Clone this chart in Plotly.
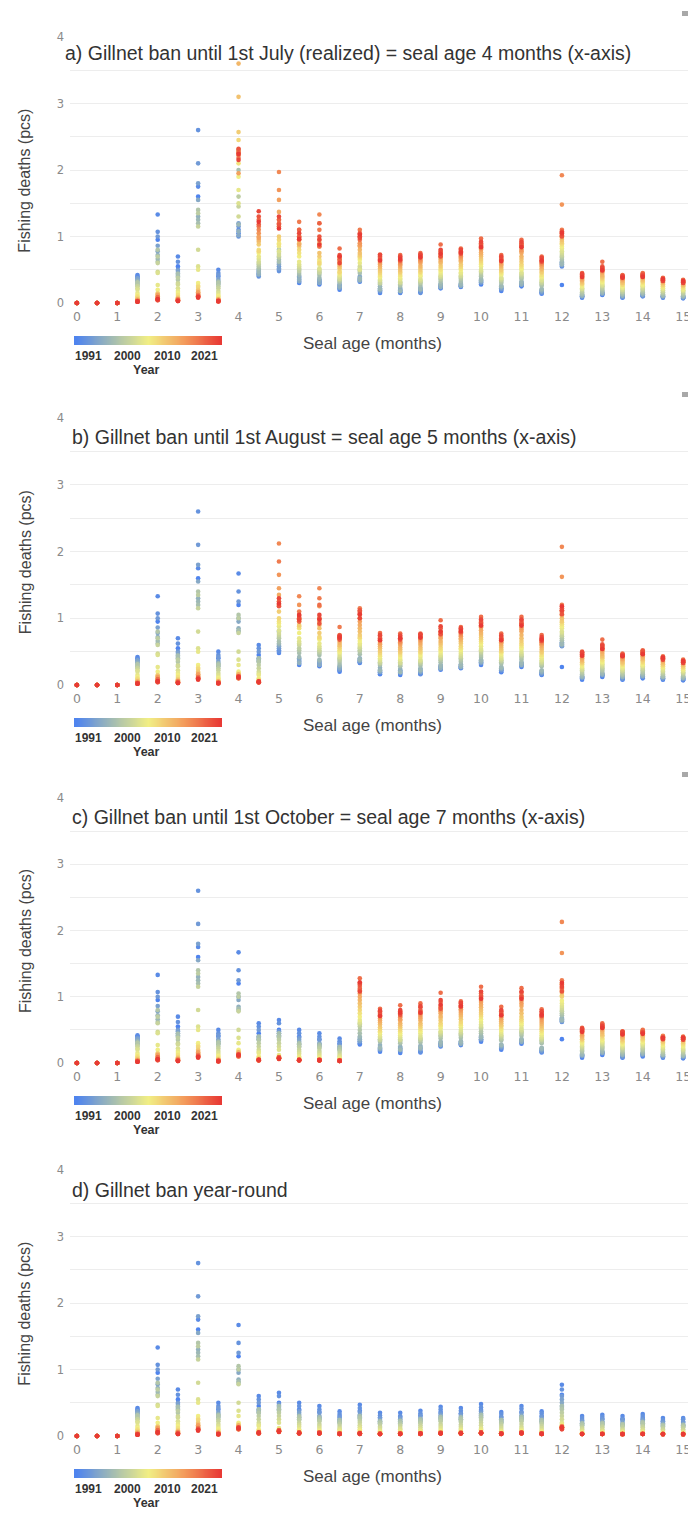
import plotly.graph_objects as go

W, H = 688, 1515

YEARS = list(range(1991, 2022))
AGES = [0, 0.5, 1, 1.5, 2, 2.5, 3, 3.5, 4, 4.5, 5, 5.5, 6, 6.5, 7, 7.5,
        8, 8.5, 9, 9.5, 10, 10.5, 11, 11.5, 12, 12.5, 13, 13.5, 14, 14.5, 15]
X_TICKS = [0, 1, 2, 3, 4, 5, 6, 7, 8, 9, 10, 11, 12, 13, 14, 15]
Y_TICKS = [0, 0.5, 1, 1.5, 2, 2.5, 3, 3.5, 4]
Y_TICK_TEXT = ["0", "", "1", "", "2", "", "3", "", "4"]
CBAR_LABELS = ["1991", "2000", "2010", "2021"]

TITLES = [
    "a) Gillnet ban until 1st July (realized) = seal age 4 months (x-axis)",
    "b) Gillnet ban until 1st August = seal age 5 months (x-axis)",
    "c) Gillnet ban until 1st October = seal age 7 months (x-axis)",
    "d) Gillnet ban year-round",
]
# number of leading age columns (0, 0.5, ...) that fall inside the ban period
BAN_COLUMNS = [8, 10, 14, 31]

# Fishing deaths in hundredths of pcs; each column lists years 1991..2021.
Z = [0] * 31
# columns with gillnet ban in force (ages 0..15), as in panel d
BAN = [
    Z, Z, Z,
    [40,42,38,36,37,34,33,30, 28,31,26,25,22,20, 15,12,10,8, 6,5,5,4,4,3, 3,3,3,2,2,2,2],
    [95,133,107,100,86,78,72,66, 62,80,70,60,47,45, 27,20,15,12, 10,14,8,7,12,6, 5,6,9,5,4,5,6],
    [55,70,62,50,48,45,42,40, 44,35,38,30,28,22, 18,15,12,9, 8,7,6,5,6,4, 4,5,3,3,4,3,3],
    [160,175,260,210,180,155,130,125, 120,140,135,115,80,55, 50,30,26,24, 20,18,15,14,16,12, 10,12,11,9,10,8,9],
    [40,50,45,42,36,33,30,28, 32,30,25,22,18,15, 12,10,8,6, 5,5,4,4,5,3, 3,4,3,3,2,3,3],
    [120,167,140,125,100,95,85,80, 82,105,100,78,50,38, 30,20,18,15, 14,12,11,16,10,12, 13,11,10,12,13,11,12],
    [45,60,55,50,40,38,36,35, 40,35,30,25,20,17, 15,10,8,7, 6,5,5,5,4,4, 5,4,5,4,5,4,5],
    [50,65,60,48,45,42,40,38, 45,40,35,30,25,20, 12,10,8,8, 7,8,9,7,8,6, 7,8,7,9,8,6,7],
    [40,50,45,38,35,32,28,25, 30,28,24,20,17,14, 10,8,6,6, 5,5,5,4,5,4, 5,4,5,4,4,5,4],
    [36,45,40,35,30,28,26,24, 28,25,22,18,15,12, 9,7,6,5, 5,5,4,5,4,5, 4,5,4,4,5,4,4],
    [30,37,33,28,25,23,21,20, 24,21,18,15,12,10, 8,6,5,5, 4,4,4,4,3,4, 3,4,3,3,4,3,3],
    [38,47,42,36,32,30,28,26, 30,27,23,20,16,13, 10,8,6,5, 5,4,4,5,4,4, 3,4,4,3,4,3,4],
    [28,35,31,27,24,22,20,19, 22,20,17,14,12,9, 7,6,5,4, 4,4,3,4,3,3, 3,3,4,3,3,3,3],
    [29,35,30,27,25,22,21,19, 23,20,17,15,12,10, 7,6,5,5, 4,4,4,3,4,3, 3,4,3,3,4,3,3],
    [31,38,34,30,27,25,23,21, 25,22,19,16,13,10, 8,6,5,5, 4,4,4,4,3,4, 3,4,3,4,3,3,4],
    [36,44,40,34,31,28,26,24, 29,26,22,18,15,12, 9,7,6,5, 5,4,4,5,4,4, 4,4,5,4,4,4,4],
    [34,42,38,33,30,27,25,23, 28,25,21,17,14,11, 9,7,6,5, 4,5,4,4,4,4, 4,4,4,5,4,4,4],
    [39,48,43,37,34,31,29,27, 32,28,24,20,16,12, 10,8,6,5, 5,5,4,5,4,5, 5,4,5,4,5,5,4],
    [29,36,33,28,25,23,21,20, 24,21,18,15,12,9, 7,6,5,4, 4,4,4,3,4,4, 3,4,4,3,3,4,3],
    [36,45,41,35,31,28,26,24, 29,26,22,18,14,11, 9,7,6,5, 5,5,4,4,5,4, 5,4,4,5,4,5,4],
    [30,37,34,29,26,24,22,20, 24,21,18,15,12,9, 7,6,5,4, 4,4,4,3,4,3, 3,4,3,3,4,3,3],
    [62,77,70,60,55,50,45,42, 45,40,35,30,25,20, 18,16,14,13, 12,14,11,13,12,15, 12,13,11,14,12,10,13],
    [24,30,27,23,21,19,17,16, 19,17,14,12,10,8, 6,5,4,4, 3,3,4,3,3,3, 3,3,3,3,3,3,3],
    [26,32,29,25,22,20,18,17, 20,18,15,13,10,8, 6,5,4,4, 4,3,3,4,3,3, 3,3,3,3,3,3,3],
    [25,30,26,24,21,18,17,15, 18,17,14,11,9,7, 6,5,4,3, 3,4,3,3,3,3, 3,3,2,3,3,3,3],
    [27,33,30,25,23,21,19,17, 21,19,15,13,10,8, 6,5,4,4, 4,3,3,3,4,3, 3,3,3,3,3,3,3],
    [22,27,24,21,19,17,15,14, 17,15,12,10,8,6, 5,4,4,3, 3,3,3,3,3,3, 3,3,2,3,3,3,3],
    [21,27,25,21,18,16,15,14, 17,15,13,10,8,6, 5,4,4,3, 3,3,3,3,3,2, 3,3,3,2,3,3,3],
]

# columns after the ban ends, panel a (ages 4..15)
A_OPEN = [
    [105,110,100,115,120,102,108,118, 200,230,160,145,130,150, 170,190,210,245, 257,310,360,228,195,225, 222,230,218,226,232,215,224],
    [42,45,40,48,44,50,43,47, 52,55,58,60,62,66, 70,75,80,78, 88,92,95,100,98,105, 110,115,125,118,130,138,122],
    [50,55,48,60,52,58,65,80, 62,70,68,75,72,78, 85,90,88,95, 100,115,125,137,155,170, 197,115,120,125,118,130,112],
    [30,35,32,38,40,33,36,42, 45,50,48,52,55,58, 62,70,75,80, 85,90,95,88,100,110, 95,122,100,110,98,105,96],
    [28,32,30,35,33,30,35,38, 42,45,48,46,50,52, 58,62,65,60, 70,75,85,90,95,120, 133,110,85,120,100,95,88],
    [20,24,22,26,28,23,25,30, 32,35,34,38,36,40, 42,45,48,46, 52,55,60,58,62,65, 68,70,82,65,72,60,70],
    [32,35,33,38,36,40,34,37, 45,48,50,52,55,50, 60,65,68,70, 72,75,80,85,87,90, 100,110,95,105,100,98,103],
    [15,18,17,20,22,19,25,21, 28,30,32,30,34,35, 38,40,42,45, 48,52,55,58,60,62, 65,68,73,70,66,72,64],
    [15,17,16,19,21,20,23,18, 26,28,30,32,31,35, 37,40,42,45, 47,50,53,56,58,60, 62,65,72,68,64,70,66],
    [16,18,15,20,22,19,24,21, 27,30,31,33,34,36, 40,42,45,47, 50,53,56,60,62,64, 66,70,75,68,72,73,69],
    [22,25,23,27,26,29,24,28, 32,35,37,39,40,42, 45,48,50,53, 56,60,62,65,68,70, 72,75,88,78,70,80,74],
    [24,26,25,28,27,30,26,29, 33,36,38,40,41,44, 46,50,52,55, 58,62,64,66,68,70, 72,75,82,78,74,80,76],
    [28,30,32,34,31,36,33,35, 40,42,45,47,48,50, 55,58,60,63, 66,70,73,76,80,82, 85,88,97,90,86,92,84],
    [18,20,22,21,24,23,26,25, 30,32,34,35,37,38, 42,44,46,48, 50,53,56,58,60,62, 64,66,72,68,65,70,63],
    [25,28,27,30,29,32,28,31, 36,38,40,42,44,46, 50,52,55,58, 62,66,70,75,78,80, 85,88,95,90,86,92,84],
    [14,16,15,18,17,20,19,21, 26,28,30,31,33,35, 38,40,42,45, 47,50,52,55,57,59, 60,63,70,66,62,68,64],
    [27,55,58,60,62,57,61,59, 65,68,70,72,75,78, 82,85,88,90, 92,95,98,100,105,148, 192,110,102,108,100,104,106],
    [8,9,10,11,10,12,11,13, 14,16,18,20,21,22, 24,26,28,29, 30,32,34,35,37,38, 40,42,45,43,41,44,39],
    [12,13,14,15,14,16,15,17, 19,21,23,25,26,28, 30,32,34,36, 38,40,42,45,47,48, 50,52,62,55,50,53,49],
    [8,9,10,9,11,12,11,13, 14,16,17,19,20,22, 23,25,27,28, 30,31,33,35,36,37, 38,40,42,41,39,40,38],
    [10,11,12,11,13,14,13,15, 16,18,20,21,23,25, 26,28,30,32, 33,35,37,38,40,42, 43,45,40,44,42,41,39],
    [8,9,10,9,10,11,12,11, 13,15,16,18,19,21, 22,24,25,27, 28,30,31,32,34,35, 36,38,35,37,34,33,36],
    [7,8,9,8,9,10,11,10, 12,14,15,17,18,19, 20,22,23,25, 26,27,28,30,31,32, 33,35,32,34,31,30,33],
]

# columns after the ban ends, panel b (ages 5..15)
B_OPEN = [
    [48,52,50,55,58,60,80,62, 65,70,72,75,78,82, 88,92,95,100, 110,120,125,135,145,165, 212,185,120,125,118,130,122],
    [30,32,35,38,40,36,33,42, 48,52,55,60,62,65, 70,78,85,88, 90,95,98,100,105,120, 133,110,100,95,102,98,105],
    [28,30,33,35,32,30,36,38, 45,48,50,52,55,58, 62,68,70,72, 78,85,90,95,100,118, 145,130,120,100,92,105,98],
    [20,22,24,23,26,25,28,30, 33,36,38,40,42,45, 48,50,52,55, 58,60,63,66,70,72, 75,87,70,73,68,74,71],
    [33,35,34,38,36,40,37,39, 46,50,52,55,57,60, 62,66,70,72, 75,80,85,90,95,100, 105,115,110,108,112,100,106],
    [16,18,19,21,23,20,26,22, 30,32,34,33,36,38, 40,43,45,48, 51,55,58,61,63,66, 68,72,78,74,70,75,67],
    [15,17,18,20,22,21,24,19, 28,30,32,34,33,37, 39,42,45,48, 50,53,56,60,62,64, 66,70,77,72,68,74,70],
    [16,18,17,21,23,20,25,22, 29,32,33,35,36,38, 42,45,48,50, 53,56,60,63,66,68, 70,73,77,72,75,76,71],
    [23,26,24,28,27,30,25,29, 34,37,39,41,43,45, 48,51,53,56, 60,63,66,70,72,75, 78,80,97,85,76,88,80],
    [25,27,26,29,28,31,27,30, 35,38,40,42,44,47, 50,53,55,58, 62,65,68,70,73,75, 77,80,87,83,79,85,81],
    [30,32,34,36,33,38,35,37, 42,45,48,50,52,54, 58,62,65,68, 71,75,78,82,86,88, 90,94,102,96,92,98,89],
    [19,21,23,22,25,24,27,26, 32,34,36,37,39,41, 44,47,49,51, 53,56,59,62,64,66, 68,70,77,72,69,74,67],
    [27,30,29,32,31,34,30,33, 38,41,43,45,47,50, 54,56,59,62, 66,70,75,80,83,86, 90,93,102,96,92,98,89],
    [15,17,16,19,18,21,20,22, 28,30,32,33,35,37, 40,43,45,48, 50,53,56,59,61,63, 64,67,75,70,66,72,68],
    [27,58,60,62,64,59,63,61, 67,70,73,75,78,80, 85,88,91,94, 96,100,104,108,112,162, 207,120,110,115,106,112,118],
    [8,10,11,12,11,13,12,14, 16,18,20,22,23,25, 27,29,31,33, 34,36,38,40,42,43, 45,47,50,48,46,49,44],
    [12,14,15,16,15,17,16,18, 21,23,25,27,29,31, 33,35,37,40, 42,44,47,50,52,54, 56,58,68,61,55,59,54],
    [8,9,10,10,12,13,12,14, 15,17,19,21,22,24, 26,28,30,32, 33,35,37,39,40,42, 43,45,47,46,44,45,43],
    [10,12,13,12,14,15,14,16, 18,20,22,24,26,28, 29,31,33,35, 37,39,41,43,45,47, 48,50,52,49,51,47,46],
    [8,9,10,10,11,12,13,12, 14,16,18,20,21,23, 25,27,28,30, 31,33,35,36,38,40, 41,43,40,42,39,38,41],
    [7,8,9,9,10,11,12,11, 13,15,17,18,19,21, 22,24,25,27, 28,30,31,33,34,35, 36,38,35,37,34,33,36],
]

# columns after the ban ends, panel c (ages 7..15)
C_OPEN = [
    [28,30,32,35,33,38,36,40, 45,50,55,58,60,62, 65,70,75,80, 85,90,95,100,105,110, 115,120,128,112,118,108,122],
    [17,19,20,22,24,21,27,23, 32,34,36,35,38,40, 43,46,48,51, 54,58,61,64,67,70, 72,76,82,78,74,79,71],
    [15,17,19,21,23,22,25,20, 30,32,34,36,35,39, 42,45,48,51, 54,57,60,64,66,69, 71,75,87,78,73,80,76],
    [16,18,17,22,24,21,26,23, 31,34,35,37,38,41, 45,48,51,54, 57,60,64,67,70,73, 75,78,90,80,84,86,76],
    [25,28,26,30,29,32,27,31, 37,40,42,44,46,48, 52,55,57,60, 64,68,71,75,78,80, 84,86,106,92,82,95,88],
    [27,29,28,31,30,33,29,32, 38,41,43,45,47,50, 54,57,59,62, 66,70,73,76,79,81, 84,87,93,90,85,91,86],
    [32,34,36,39,36,41,38,40, 45,48,52,54,56,58, 62,66,70,73, 76,80,84,88,92,95, 98,102,115,105,100,108,97],
    [20,22,24,23,26,25,28,27, 34,36,38,40,42,44, 47,50,52,55, 57,60,63,66,69,71, 73,76,85,78,74,80,72],
    [29,32,31,34,33,36,32,35, 41,44,46,48,50,53, 57,60,63,66, 70,75,80,86,90,94, 98,102,113,106,100,108,97],
    [16,18,17,20,19,22,21,23, 30,32,34,35,37,39, 42,45,48,51, 53,56,59,62,65,68, 70,73,81,76,71,78,73],
    [36,62,64,66,68,63,67,65, 72,75,78,80,83,86, 90,94,120,100, 102,106,110,114,118,166, 213,125,112,118,108,115,121],
    [8,10,11,12,11,13,12,14, 17,19,21,23,25,27, 29,31,33,35, 36,38,40,42,44,46, 48,50,53,51,49,52,47],
    [12,14,15,16,15,17,16,18, 21,23,25,27,29,31, 33,35,37,40, 42,44,47,50,52,54, 55,57,60,58,54,56,53],
    [8,9,10,10,12,13,12,14, 16,18,20,22,23,25, 27,29,31,33, 35,37,39,41,42,44, 45,47,48,46,44,47,43],
    [10,12,13,12,14,15,14,16, 18,20,22,24,26,28, 30,32,34,36, 38,40,42,44,46,47, 48,50,49,47,45,46,44],
    [8,9,10,10,11,12,13,12, 14,16,18,20,21,23, 25,27,29,31, 32,34,35,37,38,40, 41,40,38,39,37,36,38],
    [7,8,9,9,10,11,12,11, 13,15,17,19,20,22, 24,26,28,30, 32,33,35,36,37,39, 40,38,36,39,37,35,38],
]

OPEN = [A_OPEN, B_OPEN, C_OPEN, []]

COLORSCALE = [[0.0, "#4f84ee"], [0.25, "#a3bcb2"], [0.5, "#f1ee84"],
              [0.75, "#f39c5c"], [1.0, "#e83a35"]]

# pixel layout
ZERO_PX = [303, 685, 1063, 1436]
FOUR_PX = [37, 418, 798, 1170]
TITLE_X = [63, 70, 70, 70]
TITLE_DY = [16, 19, 19, 20]
PLOT_LEFT = 70


def px(x):
    return x / W


def py(y):
    return 1 - y / H


TXT = "Liberation Sans"
HIDDEN = dict(showgrid=False, zeroline=False, showline=False, showticklabels=False,
              ticks="", automargin=False, fixedrange=True)

fig = go.Figure()
annotations = []
shapes = []
layout = dict(
    width=W, height=H, margin=dict(l=0, r=0, t=0, b=0, autoexpand=False),
    paper_bgcolor="white", plot_bgcolor="white", showlegend=False,
    coloraxis=dict(colorscale=COLORSCALE, cmin=1991, cmax=2021, showscale=False),
)

for i in range(4):
    n = i + 1
    sfx = "" if n == 1 else str(n)
    cols = BAN[:BAN_COLUMNS[i]] + OPEN[i]
    xs, ys, cs = [], [], []
    for yi, yr in enumerate(YEARS):
        for ci, col in enumerate(cols):
            xs.append(AGES[ci])
            ys.append(col[yi] / 100.0)
            cs.append(yr)
    fig.add_trace(go.Scatter(
        x=xs, y=ys, mode="markers", xaxis="x" + sfx, yaxis="y" + sfx,
        cliponaxis=False, hoverinfo="skip",
        marker=dict(size=4.6, color=cs, coloraxis="coloraxis", line=dict(width=0)),
    ))
    z, f = ZERO_PX[i], FOUR_PX[i]
    layout["xaxis" + sfx] = dict(
        domain=[px(PLOT_LEFT), 1.0], range=[-0.17, 15.12], anchor="y" + sfx,
        tickvals=X_TICKS, ticktext=[str(t) for t in X_TICKS], showgrid=False,
        zeroline=False, showline=False, ticks="", ticklabelstandoff=4,
        ticklabeloverflow="allow", automargin=False,
        tickfont=dict(family="DejaVu Sans", size=12.5, color="#8a8a8a"),
        fixedrange=True,
    )
    layout["yaxis" + sfx] = dict(
        domain=[py(z), py(f)], range=[0, 4], anchor="x" + sfx,
        tickvals=Y_TICKS, ticktext=Y_TICK_TEXT, showgrid=True, gridcolor="#ededed",
        gridwidth=1, zeroline=False, showline=False, ticks="", ticklabelstandoff=5,
        automargin=False,
        tickfont=dict(family="DejaVu Sans", size=11.5, color="#8a8a8a"),
        fixedrange=True,
    )
    # colour legend strip, drawn from the year list
    cx, cy = "x" + str(n + 4), "y" + str(n + 4)
    fig.add_trace(go.Heatmap(
        z=[YEARS], x=YEARS, y=[0], xaxis=cx, yaxis=cy, coloraxis="coloraxis",
        zsmooth="best", hoverinfo="skip",
    ))
    layout["xaxis" + str(n + 4)] = dict(domain=[px(74), px(222)], range=[1990.5, 2021.5],
                                        anchor=cy, **HIDDEN)
    layout["yaxis" + str(n + 4)] = dict(domain=[py(z + 42), py(z + 33)], range=[-0.5, 0.5],
                                        anchor=cx, **HIDDEN)
    annotations.append(dict(
        text=TITLES[i], x=px(TITLE_X[i]), y=py(f + TITLE_DY[i]), xref="paper", yref="paper",
        xanchor="left", yanchor="middle", showarrow=False,
        font=dict(family=TXT, size=19.5, color="#333333"),
    ))
    annotations.append(dict(
        text="Fishing deaths (pcs)", x=px(25), y=py(z - 0.46 * (z - f)), xref="paper",
        yref="paper", xanchor="center", yanchor="middle", textangle=-90, showarrow=False,
        font=dict(family=TXT, size=16, color="#444444"),
    ))
    annotations.append(dict(
        text="Seal age (months)", x=px(372), y=py(z + 40), xref="paper", yref="paper",
        xanchor="center", yanchor="middle", showarrow=False,
        font=dict(family=TXT, size=17, color="#444444"),
    ))
    for lab, lx in zip(CBAR_LABELS, [88, 127, 167, 205]):
        annotations.append(dict(
            text="<b>%s</b>" % lab, x=px(lx), y=py(z + 53), xref="paper", yref="paper",
            xanchor="center", yanchor="middle", showarrow=False,
            font=dict(family=TXT, size=12, color="#333333"),
        ))
    annotations.append(dict(
        text="<b>Year</b>", x=px(146), y=py(z + 67), xref="paper", yref="paper",
        xanchor="center", yanchor="middle", showarrow=False,
        font=dict(family=TXT, size=12.5, color="#333333"),
    ))
    if i < 3:
        shapes.append(dict(
            type="rect", xref="paper", yref="paper", x0=px(682), x1=px(688),
            y0=py(f - 21), y1=py(f - 26), fillcolor="#a8a8a8", line=dict(width=0),
        ))

# gap in the top gridline of panel d
shapes.append(dict(
    type="rect", xref="paper", yref="paper", x0=px(297), x1=px(454),
    y0=py(FOUR_PX[3] + 2), y1=py(FOUR_PX[3] - 2), fillcolor="white",
    line=dict(width=0), layer="above",
))

layout["annotations"] = annotations
layout["shapes"] = shapes
fig.update_layout(**layout)
fig.write_html(
    "out.html",
    config={"displayModeBar": False, "staticPlot": True},
    post_script="document.body.style.margin='0px';document.body.style.overflow='hidden';",
)
